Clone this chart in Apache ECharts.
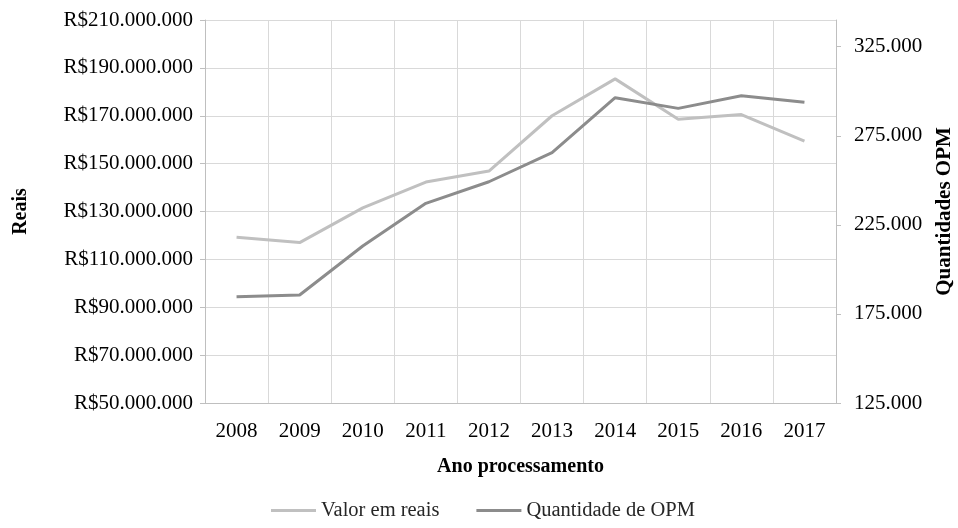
<!DOCTYPE html>
<html>
<head>
<meta charset="utf-8">
<script src="https://cdn.jsdelivr.net/npm/echarts@6/dist/echarts.min.js"></script>
<style>
  html, body { margin: 0; padding: 0; background: #ffffff; }
  #chart { width: 958px; height: 528px; }
</style>
</head>
<body>
<div id="chart"></div>
<script>
// Processing years
const years = ['2008', '2009', '2010', '2011', '2012', '2013', '2014', '2015', '2016', '2017'];

// Total amount paid in reais per year (left axis)
const valorReais = [119200000, 117000000, 131500000, 142300000, 146900000, 170000000, 185400000, 168500000, 170500000, 159400000];

// Number of OPM items per year (right axis)
const quantidadeOPM = [184700, 185600, 213100, 237100, 249200, 265500, 296400, 290400, 297500, 293800];

// Tick values shown on the right axis
const rightTicks = [125000, 175000, 225000, 275000, 325000];

const FONT = '"Liberation Serif", "Times New Roman", serif';
const GRID = '#d9d9d9';
const AXIS = '#bfbfbf';

function ptNumber(v) {
  return String(Math.round(v)).replace(/\B(?=(\d{3})+(?!\d))/g, '.');
}

const chart = echarts.init(document.getElementById('chart'), null, { renderer: 'canvas' });

chart.setOption({
  animation: false,
  backgroundColor: '#ffffff',
  textStyle: { fontFamily: FONT },
  grid: { left: 205, right: 122, top: 20, bottom: 125, containLabel: false, outerBoundsMode: 'none' },
  legend: {
    bottom: 2,
    left: 266,
    icon: 'rect',
    itemWidth: 45,
    itemHeight: 3,
    itemGap: 37,
    textStyle: { fontFamily: FONT, fontSize: 20.5, color: '#262626' },
    data: ['Valor em reais', 'Quantidade de OPM']
  },
  xAxis: {
    type: 'category',
    data: years,
    boundaryGap: true,
    name: 'Ano processamento',
    nameLocation: 'middle',
    nameGap: 54,
    nameTextStyle: { fontFamily: FONT, fontSize: 20, fontWeight: 'bold', color: '#000' },
    axisLine: { show: true, lineStyle: { color: AXIS, width: 1 } },
    axisTick: { show: false },
    axisLabel: { fontFamily: FONT, fontSize: 21, color: '#000', margin: 18 },
    splitLine: { show: true, lineStyle: { color: GRID, width: 1 } }
  },
  yAxis: [
    {
      type: 'value',
      position: 'left',
      min: 50000000,
      max: 210000000,
      interval: 20000000,
      name: 'Reais',
      nameLocation: 'middle',
      nameRotate: 90,
      nameGap: 174,
      nameTextStyle: { fontFamily: FONT, fontSize: 20, fontWeight: 'bold', color: '#000' },
      axisLine: { show: true, lineStyle: { color: AXIS, width: 1 } },
      axisTick: { show: true, length: 5, lineStyle: { color: AXIS } },
      axisLabel: {
        fontFamily: FONT, fontSize: 21, color: '#000', margin: 12,
        formatter: v => 'R$' + ptNumber(v)
      },
      splitLine: { show: true, lineStyle: { color: GRID, width: 1 } }
    },
    {
      type: 'value',
      position: 'right',
      min: 125000,
      max: 340000,
      interval: 50000,
      name: 'Quantidades OPM',
      nameLocation: 'middle',
      nameRotate: 90,
      nameGap: 98,
      nameTextStyle: { fontFamily: FONT, fontSize: 21, fontWeight: 'bold', color: '#000' },
      axisLine: { show: true, lineStyle: { color: AXIS, width: 1 } },
      axisTick: { show: true, length: 5, lineStyle: { color: AXIS }, customValues: rightTicks },
      axisLabel: {
        fontFamily: FONT, fontSize: 21, color: '#000', margin: 18,
        customValues: rightTicks,
        formatter: v => ptNumber(v)
      },
      splitLine: { show: false }
    }
  ],
  series: [
    {
      name: 'Valor em reais',
      type: 'line',
      yAxisIndex: 0,
      data: valorReais,
      symbol: 'none',
      smooth: false,
      itemStyle: { color: '#c0c0c0' },
      lineStyle: { color: '#c0c0c0', width: 3 }
    },
    {
      name: 'Quantidade de OPM',
      type: 'line',
      yAxisIndex: 1,
      data: quantidadeOPM,
      symbol: 'none',
      smooth: false,
      itemStyle: { color: '#8c8c8c' },
      lineStyle: { color: '#8c8c8c', width: 3 }
    }
  ]
});
</script>
</body>
</html>
